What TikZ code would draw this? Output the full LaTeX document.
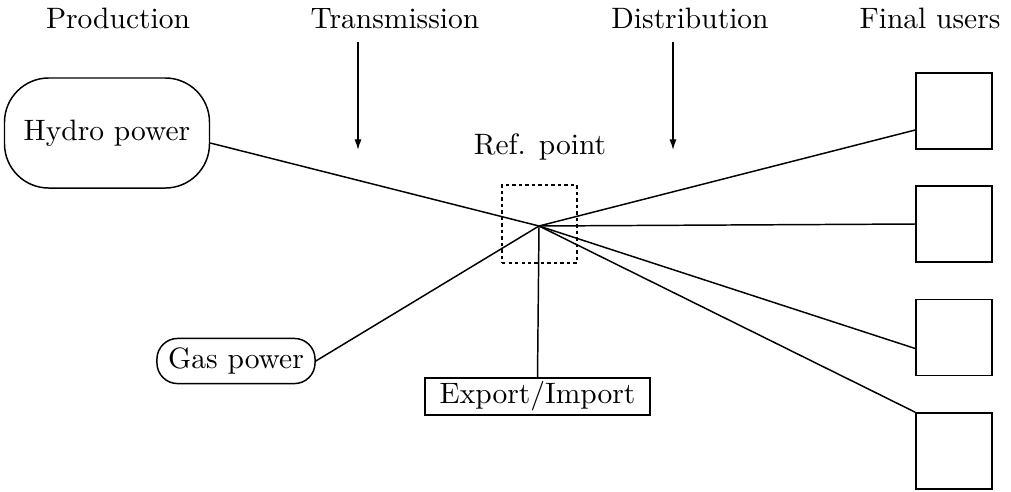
\documentclass[tikz,border=0pt]{standalone}
\usetikzlibrary{arrows.meta,calc}
\begin{document}
\begin{tikzpicture}[x=0.339pt,y=-0.339pt,
  line width=0.5pt,
  title/.style={anchor=base,inner sep=0pt},
  plant/.style={draw,rounded corners=#1,inner sep=0pt,align=center},
  userbox/.style={draw,minimum width=25.8pt,minimum height=25.8pt,inner sep=0pt},
  refbox/.style={draw,dash pattern=on 1.1pt off 1.1pt,minimum width=25.4pt,minimum height=26.4pt,inner sep=0pt},
  link/.style={draw},
  marker/.style={-{Latex[length=3.6pt,width=2.4pt]}}]
\useasboundingbox (0,0) rectangle (1011,491);

% column headings
\node[title] (hProd) at (118,28) {Production};
\node[title] (hTrans) at (395,28) {Transmission};
\node[title] (hDist) at (690,28) {Distribution};
\node[title] (hUser) at (930,28) {Final users};

% heading markers
\coordinate (tA) at (358,42);
\coordinate (tB) at (358,150);
\coordinate (dA) at (673,42);
\coordinate (dB) at (673,150);
\draw[marker] (tA) -- (tB);
\draw[marker] (dA) -- (dB);

% producers
\node[plant=15pt,minimum width=69.5pt,minimum height=37.3pt] (hydro) at (107,133) {Hydro power};
\node[plant=7pt,minimum width=53.6pt,minimum height=15.3pt] (gas) at (236,361) {Gas power};

% reference point
\node[refbox] (ref) at (539.5,224) {};
\coordinate (hub) at (539,226);
\node[title] (refLabel) at (540,154) {Ref. point};

% exchange
\node[draw,minimum width=76.3pt,minimum height=12.5pt,inner sep=0pt] (exim) at (537.5,396.5) {Export/Import};

% final users
\node[userbox] (u1) at (954,111) {};
\node[userbox] (u2) at (954,224) {};
\node[userbox] (u3) at (954,337.5) {};
\node[userbox] (u4) at (954,451) {};

% connections through the reference point
\draw[link] ($(hydro.east)+(0,10)$) -- (hub);
\draw[link] (gas.east) -- (hub);
\draw[link] (hub) -- (exim.north);
\draw[link] (hub) -- ($(u1.west)+(0,19)$);
\draw[link] (hub) -- (u2.west);
\draw[link] (hub) -- ($(u3.west)+(0,11)$);
\draw[link] (hub) -- (u4.north west);
\end{tikzpicture}
\end{document}
